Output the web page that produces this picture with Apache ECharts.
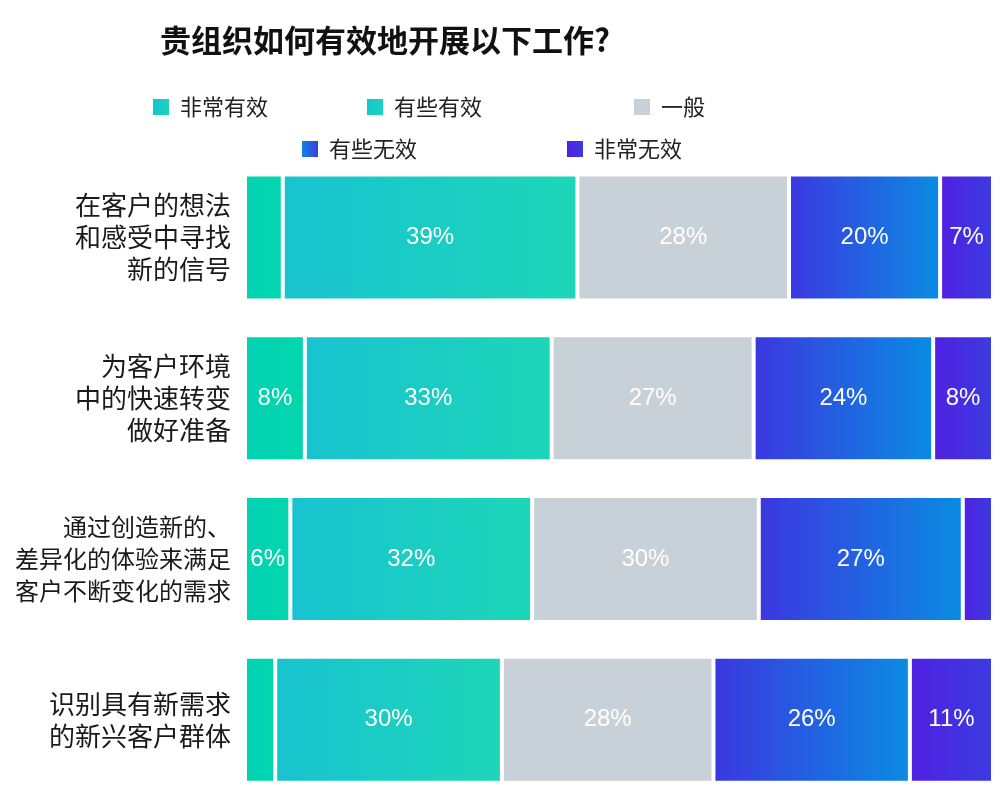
<!DOCTYPE html>
<html>
<head>
<meta charset="utf-8">
<script src="https://cdn.jsdelivr.net/npm/echarts@6/dist/echarts.min.js"></script>
<style>html,body{margin:0;padding:0;background:#fff}#c{width:1000px;height:800px}</style>
</head>
<body>
<div id="c"></div>
<script>
const categories = ['在客户的想法\n和感受中寻找\n新的信号', '为客户环境\n中的快速转变\n做好准备', '通过创造新的、\n差异化的体验来满足\n客户不断变化的需求', '识别具有新需求\n的新兴客户群体'];
const seriesNames = ['非常有效', '有些有效', '一般', '有些无效', '非常无效'];
const veryEffective = [5, 8, 6, 4];
const someEffective = [39, 33, 32, 30];
const neutral = [28, 27, 30, 28];
const someIneffective = [20, 24, 27, 26];
const veryIneffective = [7, 8, 4, 11];

const rawSeries = [veryEffective, someEffective, neutral, someIneffective, veryIneffective];
const rowTotals = categories.map((_, i) => rawSeries.reduce((s, arr) => s + arr[i], 0));

const G = (a, b) => new echarts.graphic.LinearGradient(0, 0, 1, 0, [{offset: 0, color: a}, {offset: 1, color: b}]);
const barColors = [
  G('#00d2b2', '#02d6ae'),
  G('#18c3d0', '#1dd6b8'),
  '#c8d1d8',
  G('#3b37e0', '#0a8ce2'),
  G('#5020e2', '#3a3be0')
];
const legendColors = [
  G('#12c3d2', '#1cd4bc'),
  G('#14c6cf', '#1fd4ba'),
  '#c8d1d8',
  G('#0a8ce2', '#4432e0'),
  G('#5020e2', '#3a3be0')
];
const legendPos = [
  {left: 146, top: 91}, {left: 360, top: 91}, {left: 627, top: 91},
  {left: 295, top: 133}, {left: 560, top: 133}
];

const chart = echarts.init(document.getElementById('c'));
chart.setOption({
  animation: false,
  title: {
    text: '贵组织如何有效地开展以下工作?',
    left: 155, top: 20,
    textStyle: {fontFamily: 'Noto Sans CJK SC', fontWeight: 'bold', fontSize: 31, color: '#111'}
  },
  legend: seriesNames.map((n, i) => ({
    data: [{name: n, itemStyle: {color: legendColors[i]}}],
    left: legendPos[i].left, top: legendPos[i].top,
    icon: 'rect', itemWidth: 18, itemHeight: 18, itemGap: 10,
    textStyle: {fontFamily: 'Noto Sans CJK SC', fontSize: 22, color: '#222', padding: [0, 0, 0, 5]}
  })),
  grid: {left: 245, right: 7, top: 157, height: 647},
  xAxis: {type: 'value', min: 0, max: 100, show: false},
  yAxis: {
    type: 'category', data: categories, inverse: true,
    axisLine: {show: false}, axisTick: {show: false},
    axisLabel: {
      fontFamily: 'Noto Sans CJK SC', fontSize: 26, lineHeight: 32, color: '#1a1a1a', margin: 14, align: 'right',
      formatter: (v, i) => i === 2 ? v.split('\n').map(s => '{s|' + s + '}').join('\n') : v,
      rich: {s: {fontFamily: 'Noto Sans CJK SC', fontSize: 24, lineHeight: 32, color: '#1a1a1a', align: 'right'}}
    }
  },
  series: rawSeries.map((arr, si) => ({
    name: seriesNames[si],
    type: 'bar',
    stack: 'total',
    barWidth: 126,
    itemStyle: {color: barColors[si], borderColor: '#fff', borderWidth: 2},
    label: {
      show: true, position: 'inside', color: '#fff',
      fontFamily: 'Liberation Sans', fontSize: 24, padding: [4, 0, 0, 0],
      formatter: p => arr[p.dataIndex] >= 6 ? arr[p.dataIndex] + '%' : ''
    },
    data: arr.map((v, i) => v / rowTotals[i] * 100)
  }))
});
</script>
</body>
</html>
